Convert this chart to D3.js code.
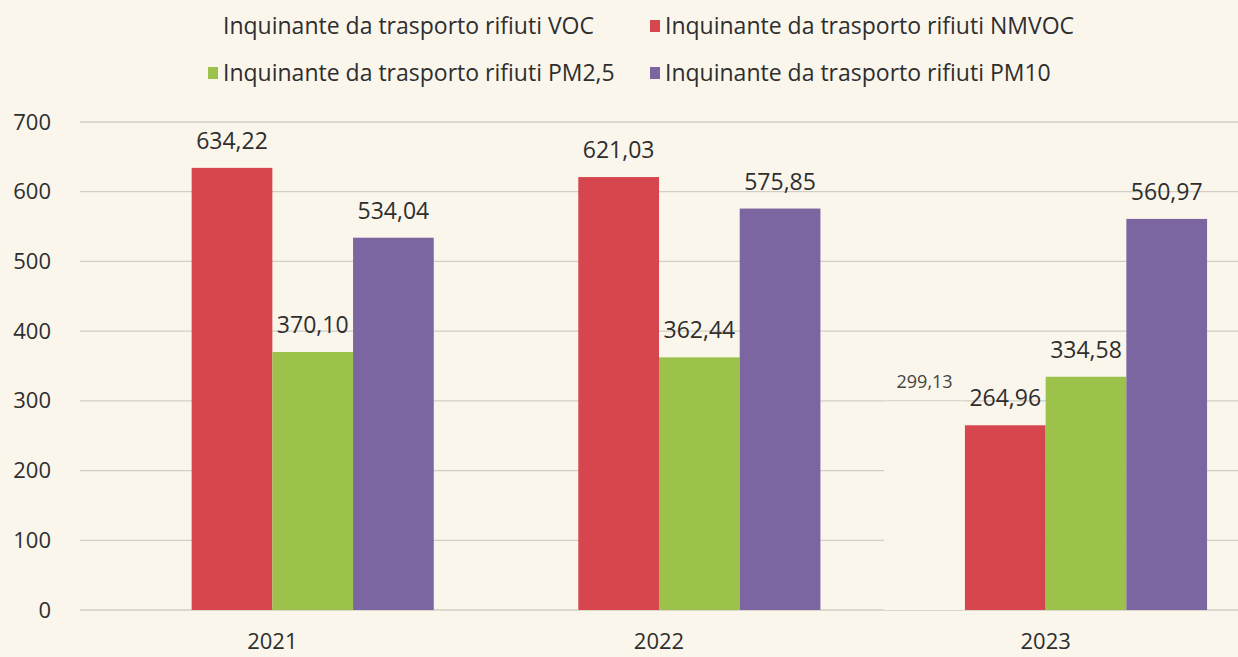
<!DOCTYPE html>
<html>
<head>
<meta charset="utf-8">
<script src="https://cdn.jsdelivr.net/npm/d3@7"></script>
<style>
  body { margin: 0; background: #faf6ec; }
  svg { display: block; }
</style>
</head>
<body>
<div id="chart"></div>
<script>
// data
var years = ["2021", "2022", "2023"];
var seriesNames = [
  "Inquinante da trasporto rifiuti VOC",
  "Inquinante da trasporto rifiuti NMVOC",
  "Inquinante da trasporto rifiuti PM2,5",
  "Inquinante da trasporto rifiuti PM10"
];
var voc   = [null, null, 299.13];
var nmvoc = [634.22, 621.03, 264.96];
var pm25  = [370.10, 362.44, 334.58];
var pm10  = [534.04, 575.85, 560.97];
var yTicks = [0, 100, 200, 300, 400, 500, 600, 700];

var bg = "#faf6ec";
var colors = [bg, "#d5464f", "#9dc24b", "#7c66a2"];
var txt = "#2e2e2e";

var w = 1238, h = 657;
var margin = { top: 122, right: 0, bottom: 47, left: 80 };

var svg = d3.select("#chart").append("svg")
  .attr("width", w)
  .attr("height", h)
  .style("font-family", "'Open Sans', sans-serif");

svg.append("rect").attr("width", w).attr("height", h).attr("fill", bg);

var x0 = d3.scaleBand()
  .domain(years)
  .range([margin.left, w - margin.right])
  .paddingInner(0.165)
  .paddingOuter(0.08);

var x1 = d3.scaleBand()
  .domain(d3.range(seriesNames.length))
  .range([0, x0.bandwidth()]);

var y = d3.scaleLinear()
  .domain([0, 700])
  .range([h - margin.bottom, margin.top]);

// grid
svg.append("g")
  .selectAll("line")
  .data(yTicks)
  .enter().append("line")
  .attr("x1", margin.left)
  .attr("x2", w)
  .attr("y1", function(d) { return y(d); })
  .attr("y2", function(d) { return y(d); })
  .attr("stroke", "#d2cec5")
  .attr("stroke-width", 1.3);

// y axis labels
var yAxis = d3.axisLeft(y).tickValues(yTicks).tickSize(0).tickPadding(0);
var gy = svg.append("g")
  .attr("transform", "translate(51,0)")
  .call(yAxis);
gy.select(".domain").remove();
gy.selectAll("text")
  .attr("font-size", "22px")
  .attr("fill", txt)
  .style("font-family", "'Open Sans', sans-serif");

// x axis labels
var xAxis = d3.axisBottom(x0).tickSize(0).tickPadding(0);
var gx = svg.append("g")
  .attr("transform", "translate(0," + (h - margin.bottom + 23) + ")")
  .call(xAxis);
gx.select(".domain").remove();
gx.selectAll("text")
  .attr("font-size", "22px")
  .attr("fill", txt)
  .style("font-family", "'Open Sans', sans-serif");

// bars
var allSeries = [voc, nmvoc, pm25, pm10];
var rows = [];
years.forEach(function(yr, i) {
  allSeries.forEach(function(s, j) {
    if (s[i] != null) rows.push({ year: yr, s: j, v: s[i] });
  });
});

svg.append("g")
  .selectAll("rect")
  .data(rows)
  .enter().append("rect")
  .attr("x", function(d) { return x0(d.year) + x1(d.s); })
  .attr("y", function(d) { return y(d.v); })
  .attr("width", x1.bandwidth())
  .attr("height", function(d) { return y(0) - y(d.v); })
  .attr("fill", function(d) { return colors[d.s]; });

var fmt = function(v) { return d3.format(".2f")(v).replace(".", ","); };

svg.append("g")
  .selectAll("text")
  .data(rows)
  .enter().append("text")
  .attr("x", function(d) { return x0(d.year) + x1(d.s) + x1.bandwidth() / 2; })
  .attr("y", function(d) { return y(d.v) - (d.s === 0 ? 13 : 19); })
  .attr("text-anchor", "middle")
  .attr("font-size", function(d) { return d.s === 0 ? "18px" : "23px"; })
  .attr("fill", function(d) { return d.s === 0 ? "#444" : txt; })
  .text(function(d) { return fmt(d.v); });

// legend
var legendPos = [[208, 26], [650, 26], [208, 73], [650, 73]];
var lg = svg.append("g").selectAll("g")
  .data(seriesNames)
  .enter().append("g")
  .attr("transform", function(d, i) { return "translate(" + legendPos[i][0] + "," + legendPos[i][1] + ")"; });
lg.append("rect")
  .attr("x", 0).attr("y", -6)
  .attr("width", 10).attr("height", 12)
  .attr("fill", function(d, i) { return colors[i]; });
lg.append("text")
  .attr("x", 15)
  .attr("dy", "0.35em")
  .attr("font-size", "23px")
  .attr("fill", txt)
  .text(function(d) { return d; });
</script>
</body>
</html>
